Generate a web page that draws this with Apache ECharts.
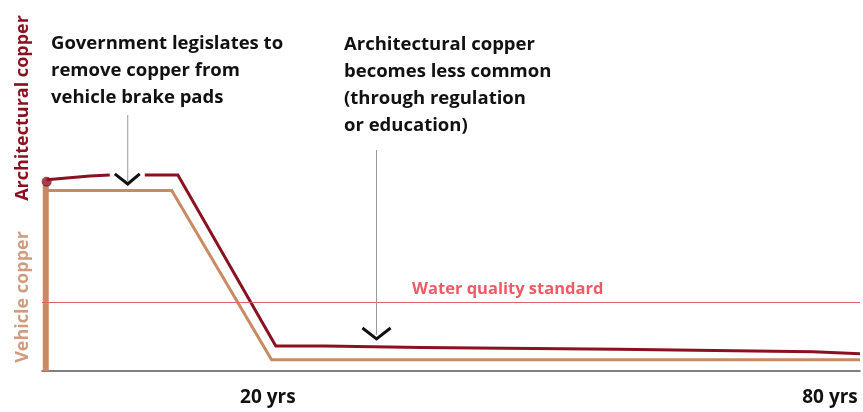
<!DOCTYPE html>
<html>
<head>
<meta charset="utf-8">
<script src="https://cdn.jsdelivr.net/npm/echarts@6/dist/echarts.min.js"></script>
<style>html,body{margin:0;padding:0;background:#fff}#c{width:863px;height:412px}</style>
</head>
<body>
<div id="c"></div>
<script>
// x in years (schematic), y in relative copper load (0-100)
const xTickValues = [20, 80];
const xTickSuffix = ' yrs';
const vehicleRise = [[-3.7, 0], [-3.7, 51.5]];
const vehicleCopper = [[-3.7, 50], [9.75, 50], [20.4, 3.1], [83.2, 3.1]];
const archStart = [[-3.6, 52.4]];
const archEarly = [[-3.6, 53.0], [1.0, 54.0], [3.13, 54.3]];
const archLate = [[6.87, 54.3], [10.4, 54.3], [20.85, 6.9], [26.1, 6.9], [26.1, 6.5], [36.4, 6.5], [36.4, 6.0], [57.3, 6.0], [57.3, 5.7], [67.7, 5.7], [67.7, 5.3], [78.2, 5.3], [78.2, 4.8], [83.2, 4.8]];
const waterStandard = 19.1;
const waterLabel = 'Water quality standard';
const waterLabelAt = [[45.6, 19.1]];
const arrow1Shaft = [[5.05, 70.9], [5.05, 52.5]];
const arrow1Head = [[3.67, 54.6], [5.05, 51.8], [6.33, 54.6]];
const arrow2Shaft = [[31.6, 61.2], [31.6, 10.0]];
const arrow2Head = [[30.1, 11.9], [31.6, 8.9], [33.1, 11.9]];
const note1 = 'Government legislates to\nremove copper from\nvehicle brake pads';
const note2 = 'Architectural copper\nbecomes less common\n(through regulation\nor education)';
const yNameArch = 'Architectural copper';
const yNameVeh = 'Vehicle copper';

const DARK = '#8A1220', TAN = '#C98A62';
const FONT = '"Open Sans", Lato, sans-serif';
const chart = echarts.init(document.getElementById('c'));
const line = (data, color, width, z) => ({type: 'line', data, symbol: 'none', silent: true, z: z || 2,
  lineStyle: {color, width, cap: 'butt', join: 'miter'}, animation: false});
chart.setOption({
  animation: false,
  grid: {left: 42, right: 3, top: 10, bottom: 41},
  xAxis: {type: 'value', min: -4.1, max: 83.2,
    axisLine: {show: true, lineStyle: {color: '#555', width: 1.5}},
    axisTick: {show: false}, splitLine: {show: false},
    axisLabel: {customValues: xTickValues, formatter: v => v + xTickSuffix, margin: 17,
      color: '#111', fontFamily: FONT, fontWeight: 'bold', fontSize: 19}},
  yAxis: {type: 'value', min: 0, max: 100, show: false},
  graphic: [
    {type: 'text', left: 51, top: 30, style: {text: note1, font: 'bold 18.5px ' + FONT, lineHeight: 27, fill: '#111'}},
    {type: 'text', left: 344, top: 31, style: {text: note2, font: 'bold 18.5px ' + FONT, lineHeight: 27, fill: '#111'}},
    {type: 'text', x: 23, y: 108, rotation: Math.PI / 2, style: {text: yNameArch, font: 'bold 18px ' + FONT, fill: DARK, align: 'center', verticalAlign: 'middle'}},
    {type: 'text', x: 23, y: 297, rotation: Math.PI / 2, style: {text: yNameVeh, font: 'bold 18px ' + FONT, fill: '#D19C7E', align: 'center', verticalAlign: 'middle'}}
  ],
  series: [
    Object.assign(line(vehicleCopper, TAN, 3), {markLine: {silent: true, symbol: 'none', label: {show: false},
      lineStyle: {color: '#E0606C', width: 1, type: 'solid'}, data: [{yAxis: waterStandard}]}}),
    line(vehicleRise, TAN, 6),
    line(archEarly, DARK, 3, 3),
    line(archLate, DARK, 3, 3),
    {type: 'scatter', data: archStart, symbolSize: 10, itemStyle: {color: DARK}, z: 4, silent: true},
    line(arrow1Shaft, '#999', 1, 5),
    line(arrow1Head, '#111', 3, 6),
    line(arrow2Shaft, '#999', 1, 5),
    line(arrow2Head, '#111', 3, 6),
    {type: 'scatter', data: waterLabelAt, symbolSize: 0, silent: true,
      label: {show: true, position: 'top', distance: 4, formatter: waterLabel, color: '#E8313F',
        fontFamily: FONT, fontWeight: 'bold', fontSize: 16.5}}
  ]
});
</script>
</body>
</html>
